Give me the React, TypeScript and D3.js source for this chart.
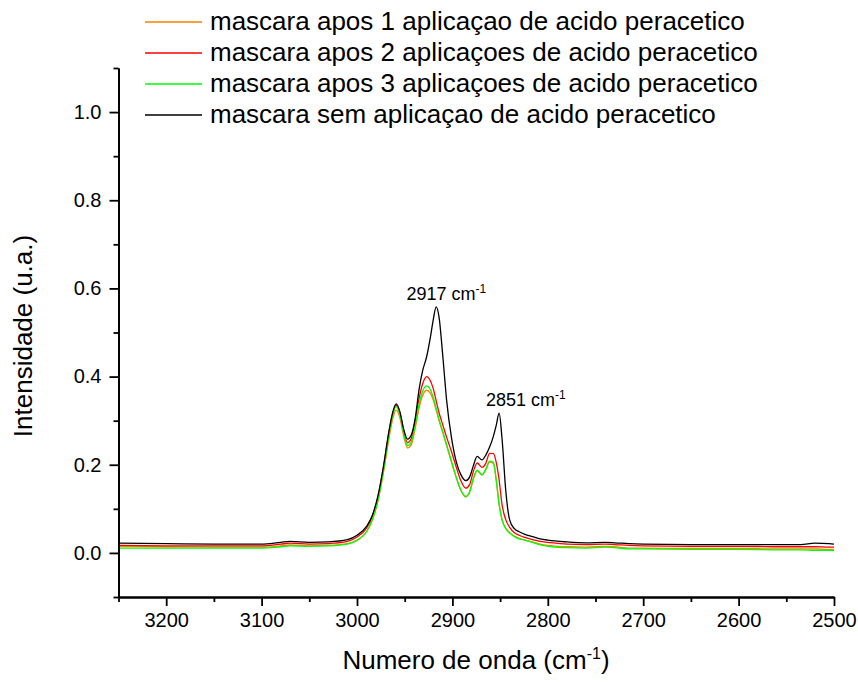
import React, { useEffect, useRef } from 'react'
import * as d3 from 'd3'

// wavenumber (cm-1)
const wavenumbers = [
  3250, 3200, 3150, 3100, 3080, 3070, 3050, 3030, 3010, 3000,
  2990, 2984, 2978, 2972, 2967, 2963, 2959, 2955, 2951, 2947,
  2943, 2939, 2935, 2931, 2927, 2923, 2920, 2917, 2914, 2910,
  2906, 2901, 2896, 2891, 2886, 2882, 2878, 2874, 2869, 2865,
  2861, 2857, 2854, 2851, 2848, 2844, 2840, 2835, 2830, 2824,
  2816, 2808, 2800, 2780, 2760, 2740, 2730, 2715, 2700, 2650,
  2600, 2560, 2535, 2520, 2505, 2500,
]

const apos1 = [
  0.015, 0.014, 0.013, 0.013, 0.016, 0.018, 0.016, 0.017, 0.021, 0.029,
  0.048, 0.074, 0.118, 0.186, 0.253, 0.3, 0.324, 0.306, 0.264, 0.238,
  0.246, 0.283, 0.328, 0.358, 0.369, 0.362, 0.346, 0.324, 0.3, 0.272,
  0.243, 0.206, 0.171, 0.141, 0.127, 0.137, 0.168, 0.186, 0.177, 0.189,
  0.206, 0.203, 0.164, 0.11, 0.076, 0.056, 0.046, 0.038, 0.033, 0.029,
  0.025, 0.02, 0.017, 0.014, 0.013, 0.015, 0.014, 0.011, 0.011, 0.01,
  0.01, 0.009, 0.009, 0.009, 0.008, 0.008,
]

const apos2 = [
  0.017, 0.016, 0.016, 0.016, 0.02, 0.022, 0.02, 0.021, 0.026, 0.036,
  0.056, 0.082, 0.127, 0.197, 0.267, 0.312, 0.335, 0.317, 0.275, 0.25,
  0.26, 0.3, 0.35, 0.385, 0.4, 0.39, 0.372, 0.345, 0.318, 0.29,
  0.262, 0.23, 0.195, 0.163, 0.147, 0.155, 0.185, 0.204, 0.194, 0.203,
  0.226, 0.225, 0.205, 0.165, 0.11, 0.075, 0.058, 0.046, 0.04, 0.035,
  0.03, 0.026, 0.024, 0.02, 0.019, 0.02, 0.019, 0.017, 0.016, 0.015,
  0.015, 0.014, 0.014, 0.014, 0.013, 0.013,
]

const apos3 = [
  0.011, 0.011, 0.011, 0.011, 0.014, 0.016, 0.015, 0.016, 0.02, 0.028,
  0.048, 0.075, 0.12, 0.19, 0.26, 0.308, 0.332, 0.313, 0.27, 0.243,
  0.252, 0.29, 0.337, 0.368, 0.379, 0.37, 0.352, 0.328, 0.303, 0.275,
  0.245, 0.208, 0.172, 0.142, 0.128, 0.138, 0.17, 0.188, 0.177, 0.19,
  0.208, 0.205, 0.165, 0.11, 0.075, 0.055, 0.045, 0.037, 0.032, 0.029,
  0.024, 0.018, 0.015, 0.012, 0.011, 0.013, 0.012, 0.009, 0.009, 0.008,
  0.008, 0.007, 0.007, 0.006, 0.006, 0.005,
]

const semAplicacao = [
  0.022, 0.021, 0.02, 0.02, 0.024, 0.026, 0.024, 0.025, 0.03, 0.04,
  0.06, 0.085, 0.13, 0.2, 0.27, 0.315, 0.338, 0.32, 0.28, 0.258,
  0.268, 0.305, 0.37, 0.415, 0.445, 0.49, 0.53, 0.558, 0.535, 0.445,
  0.345, 0.262, 0.207, 0.177, 0.164, 0.172, 0.198, 0.219, 0.211, 0.222,
  0.24, 0.265, 0.29, 0.317, 0.26, 0.14, 0.075, 0.055, 0.048, 0.042,
  0.037, 0.032, 0.029, 0.025, 0.023, 0.024, 0.023, 0.021, 0.02, 0.019,
  0.019, 0.019, 0.019, 0.022, 0.021, 0.02,
]

const seriesNames = [
  'mascara apos 1 aplicaçao de acido peracetico',
  'mascara apos 2 aplicaçoes de acido peracetico',
  'mascara apos 3 aplicaçoes de acido peracetico',
  'mascara sem aplicaçao de acido peracetico',
]
const seriesValues = [apos1, apos2, apos3, semAplicacao]
const seriesColors = ['#ff8000', '#ff0000', '#00ff00', '#000000']

const xTicks = [3200, 3100, 3000, 2900, 2800, 2700, 2600, 2500]
const xMinorTicks = [3250, 3150, 3050, 2950, 2850, 2750, 2650, 2550]
const yTicks = [0, 0.2, 0.4, 0.6, 0.8, 1.0]
const yMinorTicks = [-0.1, 0.1, 0.3, 0.5, 0.7, 0.9, 1.1]

const peakLabels = [
  { wn: 2917, text: '2917' },
  { wn: 2851, text: '2851' },
]

const font = "'Liberation Sans', Arial, sans-serif"

const App = () => {
  const ref = useRef<SVGSVGElement>(null)

  useEffect(() => {
    document.body.style.margin = '0'
    const svg = d3.select(ref.current)
    svg.selectAll('*').remove()

    const x = d3.scaleLinear().domain([3250, 2500]).range([118.5, 834])
    const y = d3.scaleLinear().domain([-0.1, 1.1]).range([597, 68])

    // data lines
    const line = d3
      .line<number>()
      .x((_, i) => x(wavenumbers[i]))
      .y((d) => y(d))
      .curve(d3.curveMonotoneX)

    svg
      .selectAll('path.series')
      .data(seriesValues)
      .enter()
      .append('path')
      .attr('class', 'series')
      .attr('d', (d) => line(d))
      .attr('fill', 'none')
      .attr('stroke', (_, i) => seriesColors[i])
      .attr('stroke-width', 1.3)

    // axes
    const xAxis = svg
      .append('g')
      .attr('transform', 'translate(0,597)')
      .call(
        d3
          .axisBottom(x)
          .tickValues(xTicks)
          .tickSize(9)
          .tickSizeOuter(0)
          .tickPadding(7)
          .tickFormat(d3.format('d'))
      )
    svg
      .append('g')
      .attr('transform', 'translate(0,597)')
      .call(d3.axisBottom(x).tickValues(xMinorTicks).tickSize(5).tickSizeOuter(0).tickFormat(() => ''))

    const yAxis = svg
      .append('g')
      .attr('transform', 'translate(118.5,0)')
      .call(
        d3
          .axisLeft(y)
          .tickValues(yTicks)
          .tickSize(9)
          .tickSizeOuter(0)
          .tickPadding(8)
          .tickFormat(d3.format('.1f'))
      )
    svg
      .append('g')
      .attr('transform', 'translate(118.5,0)')
      .call(d3.axisLeft(y).tickValues(yMinorTicks).tickSize(5).tickSizeOuter(0).tickFormat(() => ''))

    svg.selectAll('.domain, .tick line').attr('stroke', '#000').attr('stroke-width', 1.8)
    ;[xAxis, yAxis].forEach((g) =>
      g.selectAll('text').attr('font-family', font).attr('font-size', 20).attr('fill', '#000')
    )

    // axis titles
    const xTitle = svg
      .append('text')
      .attr('x', 476)
      .attr('y', 669)
      .attr('text-anchor', 'middle')
      .attr('font-family', font)
      .attr('font-size', 26)
    xTitle.append('tspan').text('Numero de onda (cm')
    xTitle.append('tspan').attr('dy', -10).attr('font-size', 16).text('-1')
    xTitle.append('tspan').attr('dy', 10).text(')')

    svg
      .append('text')
      .attr('transform', 'translate(32,336) rotate(-90)')
      .attr('text-anchor', 'middle')
      .attr('font-family', font)
      .attr('font-size', 26)
      .text('Intensidade (u.a.)')

    // peak annotations
    const labelPos = [
      { x: 406.5, y: 300 },
      { x: 486, y: 406 },
    ]
    peakLabels.forEach((p, i) => {
      const t = svg
        .append('text')
        .attr('x', labelPos[i].x)
        .attr('y', labelPos[i].y)
        .attr('font-family', font)
        .attr('font-size', 18)
      t.append('tspan').text(`${p.text} cm`)
      t.append('tspan').attr('dy', -7).attr('font-size', 12).text('-1')
    })

    // legend
    const legend = svg
      .selectAll('g.legend')
      .data(seriesNames)
      .enter()
      .append('g')
      .attr('class', 'legend')
      .attr('transform', (_, i) => `translate(0,${Math.round(22 + i * 31)})`)
    legend
      .append('line')
      .attr('x1', 145)
      .attr('x2', 202)
      .attr('stroke', (_, i) => seriesColors[i])
      .attr('stroke-width', 1.4)
    legend
      .append('text')
      .attr('x', 210)
      .attr('y', 8)
      .attr('font-family', font)
      .attr('font-size', 26)
      .text((d) => d)
  }, [])

  return <svg ref={ref} width={858} height={682} style={{ display: 'block', background: '#fff' }} />
}

export default App
